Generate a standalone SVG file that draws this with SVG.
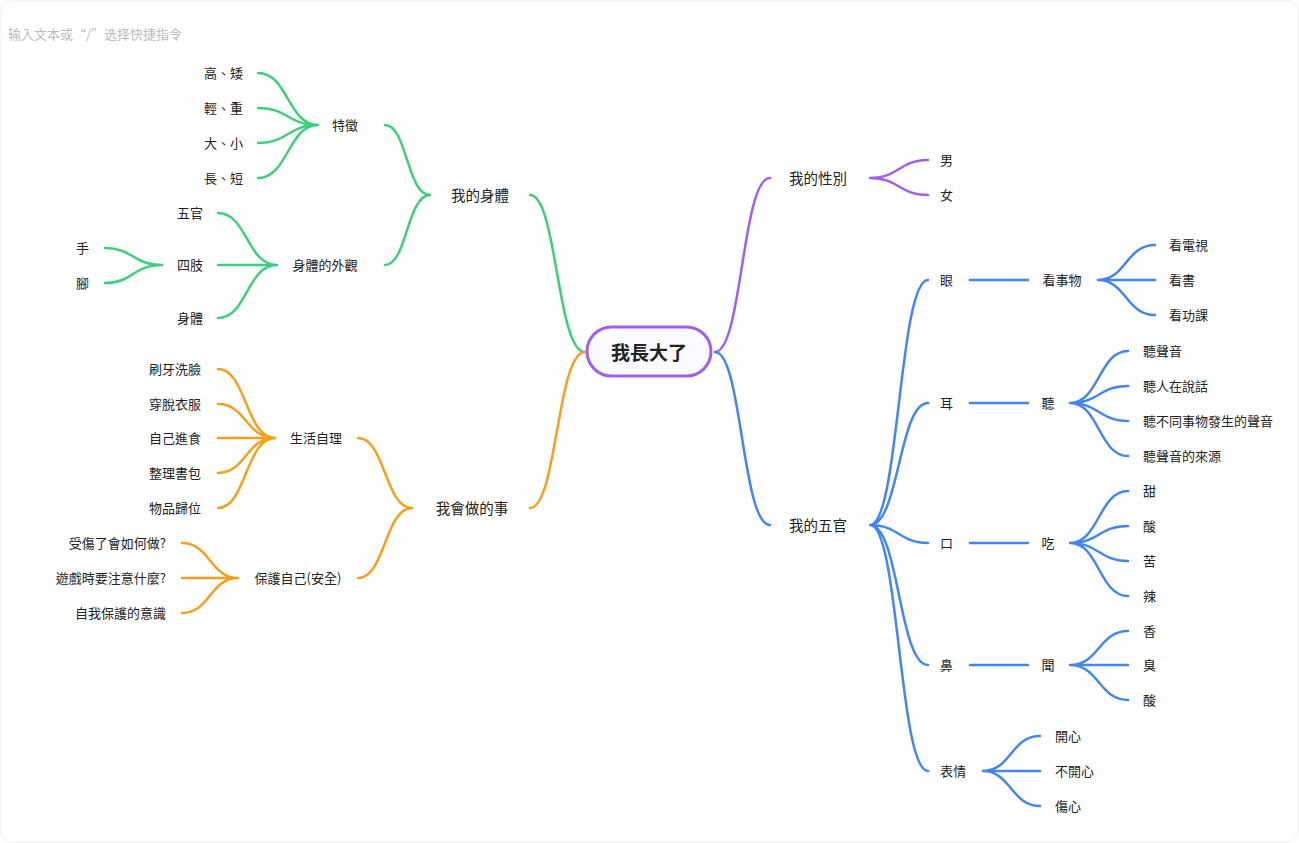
<svg xmlns="http://www.w3.org/2000/svg" width="1299" height="843" viewBox="0 0 1299 843">
<style>
text{font-family:"Noto Sans CJK TC","Noto Sans CJK SC",sans-serif;font-size:13px;fill:#222;dominant-baseline:central}
.m{text-anchor:middle}.e{text-anchor:end}.s{text-anchor:start}
.L2{font-size:14.5px}
.c path{fill:none;stroke-width:2.5;stroke-linecap:round}
.g path{stroke:#3ecf7e}.o path{stroke:#f5a01c}.b path{stroke:#4286f5}.p path{stroke:#a25fee}
</style>
<rect x="1" y="1" width="1297" height="841" rx="10" fill="#fff" stroke="#f0f0f0"/>
<text x="8" y="33" style="fill:#bbb;font-size:13px">输入文本或“/”选择快捷指令</text>
<g id="connectors" class="c">
<g class="g">
<path d="M585 352C557 352 557 195 530 195"/>
<path d="M430 195C407 195 407 125 385 125M430 195C407 195 407 265 385 265"/>
<path d="M318 125C288 125 288 73 258 73M318 125C288 125 288 108 258 108M318 125C288 125 288 143 258 143M318 125C288 125 288 178 258 178"/>
<path d="M277 265C247 265 247 213 218 213M277 265L218 265M277 265C247 265 247 318 218 318"/>
<path d="M162 265C133 265 133 248 105 248M162 265C133 265 133 283 105 283"/>
</g>
<g class="o">
<path d="M585 352C557 352 557 508 530 508"/>
<path d="M412 508C385 508 385 438 358 438M412 508C385 508 385 578 358 578"/>
<path d="M275 438C246 438 246 369 218 369M275 438C246 438 246 404 218 404M275 438L218 438M275 438C246 438 246 473 218 473M275 438C246 438 246 508 218 508"/>
<path d="M238 578C210 578 210 543 182 543M238 578L182 578M238 578C210 578 210 613 182 613"/>
</g>
<g class="p">
<path d="M715 352C742 352 742 178 770 178"/>
<path d="M870 178C899 178 899 160 928 160M870 178C899 178 899 195 928 195"/>
</g>
<g class="b">
<path d="M715 352C742 352 742 525 770 525"/>
<path d="M870 525C899 525 899 280 928 280M870 525C899 525 899 403 928 403M870 525C899 525 899 543 928 543M870 525C899 525 899 665 928 665M870 525C899 525 899 771 928 771"/>
<path d="M970 280H1028M970 403H1028M970 543H1028M970 665H1028"/>
<path d="M1098 280C1126 280 1126 245 1155 245M1098 280H1155M1098 280C1126 280 1126 315 1155 315"/>
<path d="M1070 403C1099 403 1099 351 1128 351M1070 403C1099 403 1099 386 1128 386M1070 403C1099 403 1099 421 1128 421M1070 403C1099 403 1099 456 1128 456"/>
<path d="M1070 543C1099 543 1099 491 1128 491M1070 543C1099 543 1099 526 1128 526M1070 543C1099 543 1099 561 1128 561M1070 543C1099 543 1099 596 1128 596"/>
<path d="M1070 665C1099 665 1099 631 1128 631M1070 665H1128M1070 665C1099 665 1099 700 1128 700"/>
<path d="M983 771C1011 771 1011 736 1040 736M983 771H1040M983 771C1011 771 1011 806 1040 806"/>
</g>
</g>
<g id="root"><rect x="587" y="327" width="124" height="49" rx="24.5" fill="#fbfbff" stroke="#a25fee" stroke-width="3"/><text class="m" x="649" y="351" style="font-size:19px;font-weight:bold">我長大了</text></g>
<g transform="translate(0,-1)">
<g id="n-body"><text class="m L2" x="480" y="195">我的身體</text></g>
<g id="n-feat"><text class="m" x="345" y="125">特徵</text></g>
<g id="n-f1"><text class="e" x="243" y="73">高、矮</text></g>
<g id="n-f2"><text class="e" x="243" y="108">輕、重</text></g>
<g id="n-f3"><text class="e" x="243" y="143">大、小</text></g>
<g id="n-f4"><text class="e" x="243" y="178">長、短</text></g>
<g id="n-look"><text class="m" x="325" y="265">身體的外觀</text></g>
<g id="n-l1"><text class="e" x="203" y="213">五官</text></g>
<g id="n-l2"><text class="e" x="203" y="265">四肢</text></g>
<g id="n-l3"><text class="e" x="203" y="318">身體</text></g>
<g id="n-hand"><text class="e" x="89" y="248">手</text></g>
<g id="n-foot"><text class="e" x="89" y="283">腳</text></g>
<g id="n-do"><text class="m L2" x="472" y="508">我會做的事</text></g>
<g id="n-self"><text class="m" x="316" y="438">生活自理</text></g>
<g id="n-s1"><text class="e" x="201" y="369">刷牙洗臉</text></g>
<g id="n-s2"><text class="e" x="201" y="404">穿脫衣服</text></g>
<g id="n-s3"><text class="e" x="201" y="438">自己進食</text></g>
<g id="n-s4"><text class="e" x="201" y="473">整理書包</text></g>
<g id="n-s5"><text class="e" x="201" y="508">物品歸位</text></g>
<g id="n-prot"><text class="m" x="298" y="578">保護自己(安全)</text></g>
<g id="n-p1"><text class="e" x="166" y="543">受傷了會如何做?</text></g>
<g id="n-p2"><text class="e" x="166" y="578">遊戲時要注意什麼?</text></g>
<g id="n-p3"><text class="e" x="166" y="613">自我保護的意識</text></g>
<g id="n-sex"><text class="m L2" x="818" y="178">我的性別</text></g>
<g id="n-m"><text class="s" x="940" y="160">男</text></g>
<g id="n-w"><text class="s" x="940" y="195">女</text></g>
<g id="n-five"><text class="m L2" x="818" y="525">我的五官</text></g>
<g id="n-eye"><text class="s" x="940" y="280">眼</text></g>
<g id="n-see"><text class="m" x="1062" y="280">看事物</text></g>
<g id="n-see1"><text class="s" x="1169" y="245">看電視</text></g>
<g id="n-see2"><text class="s" x="1169" y="280">看書</text></g>
<g id="n-see3"><text class="s" x="1169" y="315">看功課</text></g>
<g id="n-ear"><text class="s" x="940" y="403">耳</text></g>
<g id="n-hear"><text class="m" x="1048" y="403">聽</text></g>
<g id="n-h1"><text class="s" x="1143" y="351">聽聲音</text></g>
<g id="n-h2"><text class="s" x="1143" y="386">聽人在說話</text></g>
<g id="n-h3"><text class="s" x="1143" y="421">聽不同事物發生的聲音</text></g>
<g id="n-h4"><text class="s" x="1143" y="456">聽聲音的來源</text></g>
<g id="n-mouth"><text class="s" x="940" y="543">口</text></g>
<g id="n-eat"><text class="m" x="1048" y="543">吃</text></g>
<g id="n-e1"><text class="s" x="1143" y="491">甜</text></g>
<g id="n-e2"><text class="s" x="1143" y="526">酸</text></g>
<g id="n-e3"><text class="s" x="1143" y="561">苦</text></g>
<g id="n-e4"><text class="s" x="1143" y="596">辣</text></g>
<g id="n-nose"><text class="s" x="940" y="665">鼻</text></g>
<g id="n-smell"><text class="m" x="1048" y="665">聞</text></g>
<g id="n-sm1"><text class="s" x="1143" y="631">香</text></g>
<g id="n-sm2"><text class="s" x="1143" y="665">臭</text></g>
<g id="n-sm3"><text class="s" x="1143" y="700">酸</text></g>
<g id="n-face"><text class="s" x="940" y="771">表情</text></g>
<g id="n-fa1"><text class="s" x="1055" y="736">開心</text></g>
<g id="n-fa2"><text class="s" x="1055" y="771">不開心</text></g>
<g id="n-fa3"><text class="s" x="1055" y="806">傷心</text></g>
</g>
</svg>
